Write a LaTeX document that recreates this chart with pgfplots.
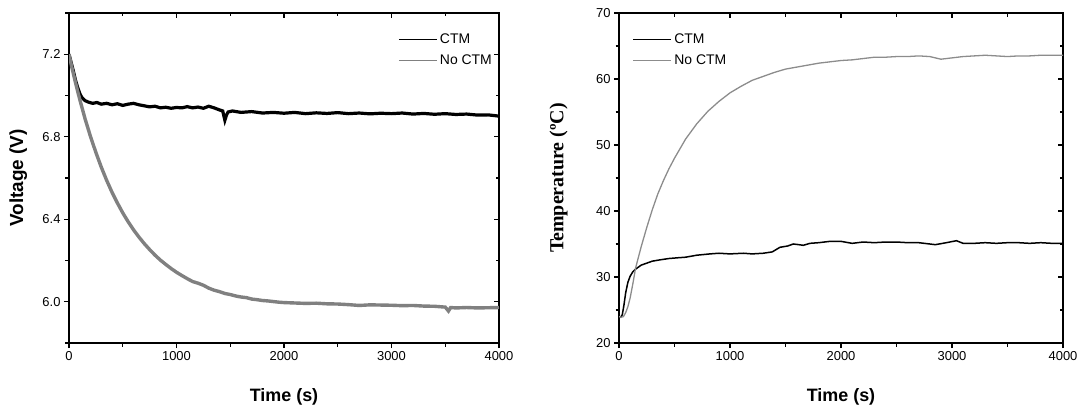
\documentclass[border=0pt]{standalone}
\usepackage{fontspec}
\setmainfont{Liberation Sans}
\newfontfamily\serifbf{Liberation Serif}
\usepackage{pgfplots}
\pgfplotsset{compat=1.18}
\definecolor{grayA}{gray}{0.5}
\definecolor{grayB}{gray}{0.55}

\pgfplotsset{
  base/.style={
    scale only axis, anchor=south west,
    xmin=0, xmax=4000, xtick={0,1000,...,4000}, minor xtick={500,1500,2500,3500},
    axis line style={line width=1.6bp},
    major tick style={line width=1.3bp, black},
    minor tick style={line width=1.3bp, black},
    major tick length=5bp, minor tick length=3.5bp,
    ticklabel style={font=\fontsize{13}{13}\selectfont},
    /pgf/number format/assume math mode=true,
    scaled x ticks=false,
    xticklabel style={/pgf/number format/1000 sep={}},
  },
  main/.style={base, tick align=outside, xtick pos=left, ytick pos=left,
    xlabel style={font=\fontsize{18}{18}\selectfont\bfseries, at={(axis description cs:0.5,-0.162)}, anchor=center},
    legend style={draw=none, fill=none, font=\fontsize{14}{14}\selectfont, row sep=5bp, inner sep=0pt, nodes={inner sep=2.5bp}},
    legend cell align=left,
    legend image code/.code={\draw[#1, line width=1.3bp] (0bp,0bp) -- (38bp,0bp);},
  },
  mirror/.style={base, tick align=inside, xtick pos=right, ytick pos=right, xticklabels={}, yticklabels={}},
}

\begin{document}
\begin{tikzpicture}
\useasboundingbox (0,0) rectangle (1085bp,412bp);

% ---------------- Left: Voltage ----------------
\begin{axis}[mirror, at={(69bp,69bp)}, width=430bp, height=330bp,
  ymin=5.8, ymax=7.4, ytick={6.0,6.4,6.8,7.2}, minor ytick={5.8,6.2,6.6,7.0,7.4}]
\end{axis}
\begin{axis}[main, at={(69bp,69bp)}, width=430bp, height=330bp,
  ymin=5.8, ymax=7.4, ytick={6.0,6.4,6.8,7.2}, minor ytick={5.8,6.2,6.6,7.0,7.4},
  yticklabel style={/pgf/number format/.cd, fixed, fixed zerofill, precision=1},
  xlabel={Time (s)}, ylabel={Voltage (V)},
  ylabel style={font=\fontsize{19}{19}\selectfont\bfseries, at={(axis description cs:-0.118,0.5)}, anchor=center},
  legend style={at={(rel axis cs:0.765,0.945)}, anchor=north west}]
\addplot[black, line width=3.2bp] coordinates {
(0,7.200) (20,7.160) (40,7.120) (60,7.075) (80,7.040) (100,7.010) (120,6.990) (150,6.975)
(180,6.968) (220,6.962) (260,6.966) (300,6.958) (350,6.962) (400,6.955) (450,6.960) (500,6.952)
(550,6.958) (600,6.962) (650,6.955) (700,6.950) (750,6.945) (800,6.948) (850,6.940) (900,6.943)
(950,6.938) (1000,6.942) (1050,6.940) (1100,6.946) (1150,6.940) (1200,6.944) (1250,6.938) (1300,6.948)
(1350,6.940) (1400,6.930) (1430,6.925) (1450,6.880) (1465,6.905) (1480,6.920) (1520,6.925) (1600,6.918)
(1700,6.922) (1800,6.915) (1900,6.918) (2000,6.914) (2100,6.918) (2200,6.912) (2300,6.916) (2400,6.913)
(2500,6.917) (2600,6.912) (2700,6.915) (2800,6.911) (2900,6.914) (3000,6.912) (3100,6.915) (3200,6.910)
(3300,6.913) (3400,6.909) (3500,6.912) (3600,6.908) (3700,6.910) (3800,6.905) (3900,6.906) (4000,6.900)
};
\addlegendentry{CTM}
\addplot[grayA, line width=3.4bp] coordinates {
(0,7.200) (25,7.140) (50,7.085) (75,7.032) (100,6.981) (150,6.886) (200,6.801) (250,6.724)
(300,6.653) (350,6.589) (400,6.531) (450,6.479) (500,6.431) (550,6.388) (600,6.349) (650,6.314)
(700,6.282) (750,6.253) (800,6.226) (850,6.202) (900,6.181) (950,6.161) (1000,6.143) (1050,6.127)
(1100,6.112) (1150,6.098) (1200,6.090) (1250,6.080) (1300,6.066) (1350,6.056) (1400,6.049) (1450,6.040)
(1500,6.035) (1550,6.028) (1600,6.023) (1650,6.020) (1700,6.013) (1750,6.010) (1800,6.006) (1850,6.004)
(1900,6.001) (1950,5.998) (2000,5.996) (2100,5.994) (2200,5.992) (2300,5.993) (2400,5.990) (2500,5.989)
(2600,5.986) (2700,5.982) (2800,5.985) (2900,5.984) (3000,5.983) (3100,5.981) (3200,5.982) (3300,5.979)
(3400,5.978) (3500,5.974) (3530,5.955) (3550,5.972) (3600,5.970) (3700,5.972) (3800,5.970) (3900,5.971) (4000,5.972)
};
\addlegendentry{No CTM}
\end{axis}

% ---------------- Right: Temperature ----------------
\begin{axis}[mirror, at={(619bp,69bp)}, width=444bp, height=330bp,
  ymin=20, ymax=70, ytick={20,30,...,70}, minor ytick={25,35,...,65}]
\end{axis}
\begin{axis}[main, at={(619bp,69bp)}, width=444bp, height=330bp,
  ymin=20, ymax=70, ytick={20,30,...,70}, minor ytick={25,35,...,65},
  xlabel={Time (s)}, ylabel={\serifbf\bfseries Temperature (ºC)},
  ylabel style={font=\fontsize{20}{20}\selectfont, at={(axis description cs:-0.136,0.5)}, anchor=center},
  legend style={at={(rel axis cs:0.03,0.945)}, anchor=north west}]
\addplot[black, line width=1.5bp] coordinates {
(0,24.0) (15,23.9) (30,24.3) (45,25.8) (60,27.6) (80,29.2) (100,30.1) (125,30.8) (150,31.2)
(200,31.8) (250,32.1) (300,32.4) (370,32.6) (450,32.8) (520,32.9) (600,33.0) (700,33.3) (820,33.5)
(900,33.6) (1000,33.5) (1120,33.6) (1200,33.5) (1300,33.6) (1380,33.8) (1450,34.5) (1520,34.7)
(1570,35.0) (1620,34.9) (1660,34.8) (1720,35.1) (1800,35.2) (1900,35.4) (2000,35.4) (2100,35.1)
(2200,35.3) (2300,35.2) (2400,35.3) (2500,35.3) (2600,35.2) (2700,35.2) (2800,35.0) (2850,34.9)
(2950,35.2) (3040,35.5) (3100,35.1) (3200,35.1) (3300,35.2) (3400,35.1) (3500,35.2) (3600,35.2)
(3700,35.1) (3800,35.2) (3900,35.1) (4000,35.1)
};
\addlegendentry{CTM}
\addplot[grayB, line width=1.3bp] coordinates {
(0,24.0) (20,23.9) (40,24.0) (60,24.6) (80,25.5) (100,26.8) (125,29.0) (150,31.4) (200,34.6)
(250,37.5) (300,40.2) (350,42.6) (400,44.6) (450,46.4) (500,48.0) (600,50.9) (700,53.2) (800,55.1)
(900,56.6) (1000,57.9) (1100,58.9) (1200,59.8) (1300,60.4) (1400,61.0) (1500,61.5) (1600,61.8)
(1700,62.1) (1800,62.4) (1900,62.6) (2000,62.8) (2100,62.9) (2200,63.1) (2300,63.3) (2400,63.3)
(2500,63.4) (2600,63.4) (2700,63.5) (2800,63.4) (2900,63.0) (3000,63.2) (3100,63.4) (3200,63.5)
(3300,63.6) (3400,63.5) (3500,63.4) (3600,63.5) (3700,63.5) (3800,63.6) (3900,63.6) (4000,63.6)
};
\addlegendentry{No CTM}
\end{axis}
\end{tikzpicture}
\end{document}
